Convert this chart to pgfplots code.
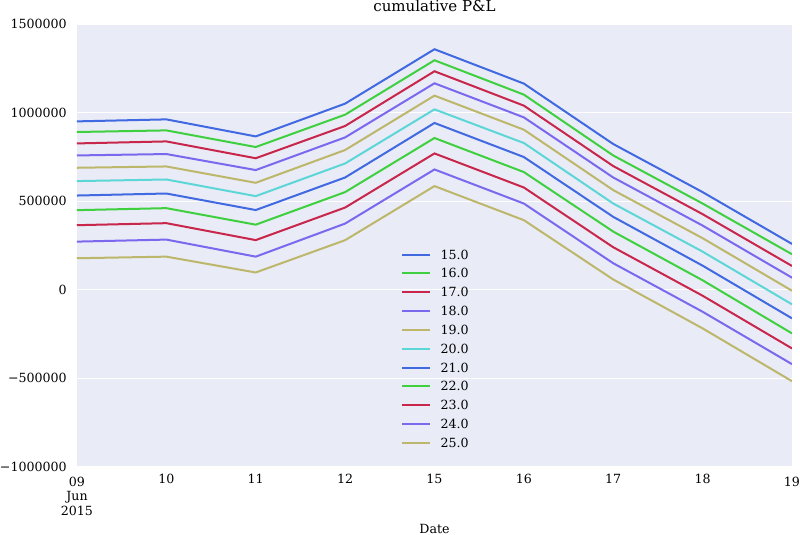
\documentclass[border=0pt]{standalone}
\usepackage{fontspec}
\setmainfont{DejaVu Serif}
\usepackage{pgfplots}
\usepackage{pgfplotstable}
\pgfplotsset{compat=1.18}
\definecolor{bgc}{HTML}{E9EBF6}
\definecolor{cA}{HTML}{4169E1}
\definecolor{cB}{HTML}{3FD03F}
\definecolor{cC}{HTML}{C8264B}
\definecolor{cD}{HTML}{7B68EE}
\definecolor{cE}{HTML}{BDB76B}
\definecolor{cF}{HTML}{5CD6D6}
\pgfplotstableread{
x s15 s16 s17 s18 s19 s20 s21 s22 s23 s24 s25
0 950700 890700 826200 758300 688700 613400 531900 449300 364400 271600 177700
1 962000 899800 837500 766200 696100 622500 543300 460600 375800 283000 186700
2 865800 805800 742500 675700 603800 528500 449900 367300 280100 186700 97300
3 1050900 988600 924700 860200 788900 713000 633800 551200 464000 373500 279600
4 1358200 1295900 1233700 1165800 1096100 1018600 941700 856800 769600 679100 585100
5 1164100 1101800 1039600 973300 903700 828500 749300 664400 577200 486700 392700
6 822800 758300 698300 633800 562500 486700 411400 328200 239900 149400 57700
7 551200 486700 426700 362200 290900 215000 135800 53200 -34000 -124500 -218400
8 258600 200300 134100 67900 -5700 -82600 -161800 -246700 -331600 -420500 -516700
}\pnl
\begin{document}
\begin{tikzpicture}
\begin{axis}[
  scale only axis, width=714pt, height=442pt,
  xmin=0, xmax=8, ymin=-1000000, ymax=1500000,
  axis background/.style={fill=bgc},
  axis line style={draw=none},
  major tick length=0pt,
  ymajorgrids, grid style={white, line width=1.1pt},
  xtick={0,1,2,3,4,5,6,7,8},
  xticklabels={{\rule{0pt}{12.7pt}09\\Jun\\2015},10,11,12,15,16,17,18,{\rule{0pt}{12.9pt}19}},
  ytick={-1000000,-500000,0,500000,1000000,1500000},
  yticklabels={−1000000,−500000,0,500000,1000000,1500000},
  scaled y ticks=false,
  tick label style={font=\fontsize{12.6}{14.5}\selectfont},
  xticklabel style={anchor=north, inner sep=0pt, yshift=-6.7pt, align=center},
  yticklabel style={anchor=east, inner sep=0pt, xshift=-10pt},
  title={cumulative P\&L},
  title style={font=\fontsize{15}{18}\selectfont, at={(0.5,1)}, anchor=base, inner sep=0pt, yshift=6.7pt},
  xlabel={Date},
  xlabel style={font=\fontsize{12.6}{15}\selectfont, at={(0.5,0)}, anchor=base, inner sep=0pt, text depth=1.5pt, yshift=-66.5pt},
  every axis plot/.append style={line width=2pt},
  legend image code/.code={\draw[#1, line width=2pt] (0pt,4.5pt) -- (28pt,4.5pt);},
  legend style={draw=none, fill=none, at={(0.4538,0.4896)}, anchor=north west,
    inner sep=0pt, outer sep=0pt, font=\fontsize{12.6}{15}\selectfont,
    nodes={inner sep=0pt, text height=9pt, text depth=0pt, anchor=base west},
    row sep=9.8pt, /tikz/every odd column/.append style={column sep=9pt}},
]
\addplot[cA] table[x=x,y=s15]{\pnl}; \addlegendentry{15.0}
\addplot[cB] table[x=x,y=s16]{\pnl}; \addlegendentry{16.0}
\addplot[cC] table[x=x,y=s17]{\pnl}; \addlegendentry{17.0}
\addplot[cD] table[x=x,y=s18]{\pnl}; \addlegendentry{18.0}
\addplot[cE] table[x=x,y=s19]{\pnl}; \addlegendentry{19.0}
\addplot[cF] table[x=x,y=s20]{\pnl}; \addlegendentry{20.0}
\addplot[cA] table[x=x,y=s21]{\pnl}; \addlegendentry{21.0}
\addplot[cB] table[x=x,y=s22]{\pnl}; \addlegendentry{22.0}
\addplot[cC] table[x=x,y=s23]{\pnl}; \addlegendentry{23.0}
\addplot[cD] table[x=x,y=s24]{\pnl}; \addlegendentry{24.0}
\addplot[cE] table[x=x,y=s25]{\pnl}; \addlegendentry{25.0}
\end{axis}
\end{tikzpicture}
\end{document}
